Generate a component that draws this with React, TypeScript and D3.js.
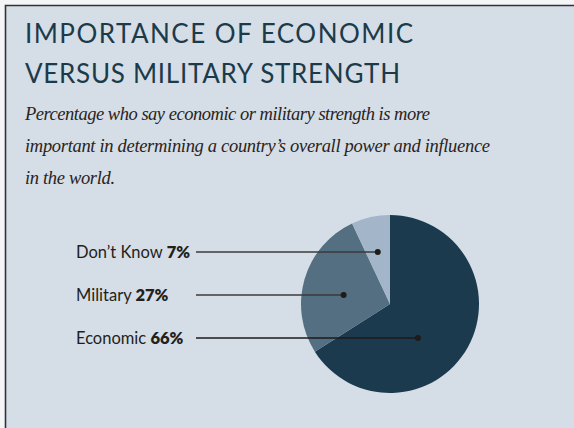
import * as d3 from 'd3';
import { useEffect, useRef } from 'react';

// slices, clockwise from 12 o'clock
const categories = ['Economic', 'Military', "Don\u2019t Know"];
const shares = [66, 27, 7];
const colors = ['#1b3a4e', '#546e82', '#a3b5c9'];
// label rows, top to bottom
const labelOrder = ["Don\u2019t Know", 'Military', 'Economic'];
// where the dot sits along the horizontal chord inside its slice (0 = left, 1 = right)
const dotAlong = [0.6, 0.5, 0.5];

const titleLines = ['IMPORTANCE OF ECONOMIC', 'VERSUS MILITARY STRENGTH'];
const titleWidths = [388, 375];
const subtitleLines = [
  'Percentage who say economic or military strength is more',
  'important in determining a country\u2019s overall power and influence',
  'in the world.',
];
const subtitleWidths = [405, 465, 90];

export default function App() {
  const ref = useRef<SVGSVGElement | null>(null);

  useEffect(() => {
    if (!ref.current) return;
    const svg = d3.select(ref.current);
    svg.selectAll('*').remove();

    const width = 574;
    const height = 428;
    const cx = 390;
    const cy = 304;
    const radius = 89;

    svg.attr('width', width).attr('height', height).attr('viewBox', `0 0 ${width} ${height}`);

    svg.append('rect').attr('width', width).attr('height', height).attr('fill', '#f4f5f7');
    svg.append('rect').attr('x', 5).attr('y', 5).attr('width', width - 5).attr('height', height - 5).attr('fill', '#d5dde7');
    svg.append('path').attr('d', `M5.5,${height} V5.5 H${width}`).attr('fill', 'none').attr('stroke', '#333').attr('stroke-width', 1.6);

    // Title
    svg.append('g')
      .selectAll('text')
      .data(titleLines)
      .enter()
      .append('text')
      .attr('x', 25)
      .attr('y', (_, i) => 43 + i * 40)
      .attr('textLength', (_, i) => titleWidths[i])
      .attr('lengthAdjust', 'spacing')
      .attr('fill', '#1b3a4a')
      .style('font-family', 'Lato, sans-serif')
      .style('font-size', '26px')
      .text((d) => d);

    // Subtitle
    svg.append('g')
      .selectAll('text')
      .data(subtitleLines)
      .enter()
      .append('text')
      .attr('x', 25)
      .attr('y', (_, i) => 120 + i * 32)
      .attr('textLength', (_, i) => subtitleWidths[i])
      .attr('lengthAdjust', 'spacing')
      .attr('fill', '#2a2420')
      .style('font-family', '"Liberation Serif", serif')
      .style('font-style', 'italic')
      .style('font-size', '18.5px')
      .text((d) => d);

    // Pie
    const pie = d3.pie<number>().sort(null).value((d) => d);
    const arcs = pie(shares);
    const arc = d3.arc<d3.PieArcDatum<number>>().innerRadius(0).outerRadius(radius);
    const pieG = svg.append('g').attr('transform', `translate(${cx},${cy})`);
    pieG.selectAll('path')
      .data(arcs)
      .enter()
      .append('path')
      .attr('d', arc)
      .attr('fill', (_, i) => colors[i]);

    // Label rows
    const rowY = d3.scalePoint<string>().domain(labelOrder).range([252, 338]);

    // horizontal chord of a slice at a given offset dy from the centre
    const chord = (a: d3.PieArcDatum<number>, dy: number): [number, number] => {
      const xs: number[] = [];
      const half = Math.sqrt(radius * radius - dy * dy);
      const inSlice = (ang: number) => {
        let t = ang;
        while (t < 0) t += 2 * Math.PI;
        return t >= a.startAngle - 1e-9 && t <= a.endAngle + 1e-9;
      };
      [half, -half].forEach((x) => {
        if (inSlice(Math.atan2(x, -dy))) xs.push(x);
      });
      [a.startAngle, a.endAngle].forEach((ang) => {
        const c = -Math.cos(ang);
        if (Math.abs(c) > 1e-6) {
          const s = dy / c;
          if (s >= 0 && s <= radius) xs.push(s * Math.sin(ang));
        }
      });
      return [d3.min(xs) ?? 0, d3.max(xs) ?? 0];
    };

    const labels = svg.append('g');
    categories.forEach((name, i) => {
      const y = rowY(name) ?? 0;
      const [x0, x1] = chord(arcs[i], y - cy);
      const dotX = cx + x0 + (x1 - x0) * dotAlong[i];

      const t = labels.append('text')
        .attr('x', 76)
        .attr('y', y + 5.5)
        .attr('fill', '#231f1c')
        .style('font-family', 'Lato, sans-serif')
        .style('font-size', '16.5px');
      t.append('tspan').text(`${name} `);
      t.append('tspan').style('font-weight', 800).text(`${shares[i]}%`);

      labels.append('line')
        .attr('x1', 196)
        .attr('x2', dotX)
        .attr('y1', y)
        .attr('y2', y)
        .attr('stroke', i === 0 ? '#1e1b18' : '#3a3a3a')
        .attr('stroke-width', 1.5);
      labels.append('circle')
        .attr('cx', dotX)
        .attr('cy', y)
        .attr('r', 3)
        .attr('fill', '#1e1b18');
    });
  }, []);

  return <svg ref={ref} style={{ position: 'absolute', left: 0, top: 0 }} role="img" aria-label="Importance of economic versus military strength" />;
}
